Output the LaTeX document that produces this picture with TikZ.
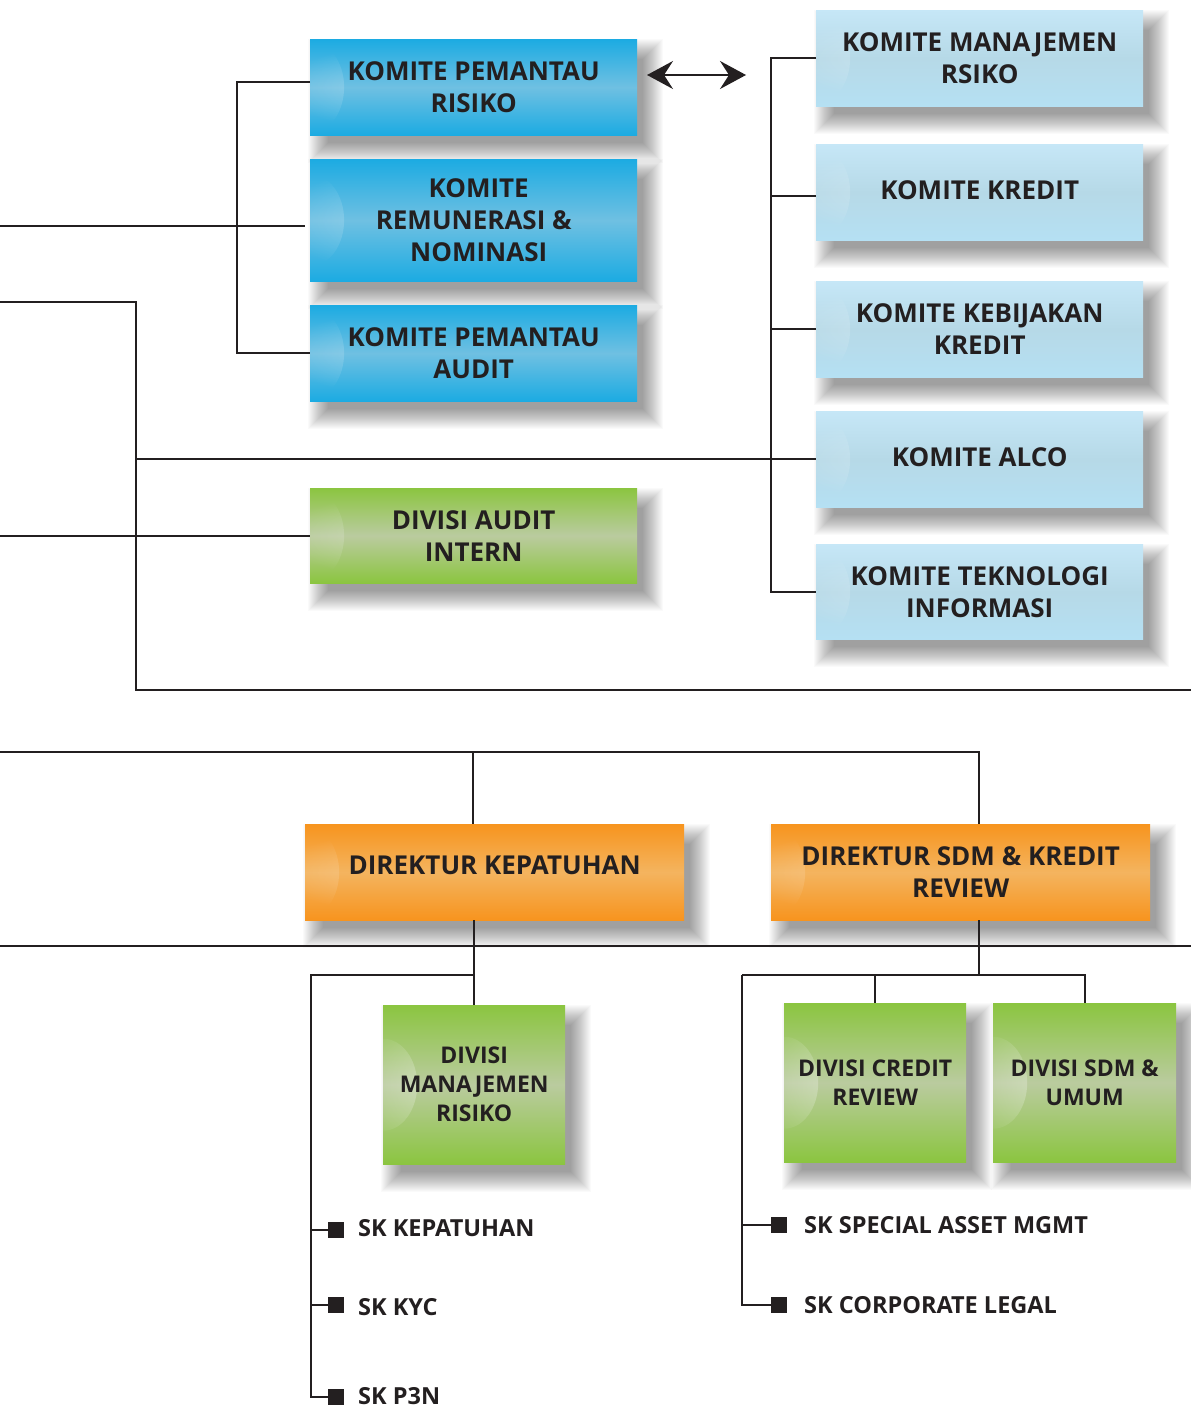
\documentclass[tikz,border=0pt]{standalone}
\usepackage{fontspec}
\setmainfont{Open Sans}
\usetikzlibrary{arrows.meta,fadings}
\pgfdeclarelayer{background}
\pgfsetlayers{background,main}
\tikzfading[name=glowfade, inner color=transparent!0, outer color=transparent!100]
\definecolor{ln}{HTML}{231F20}
\definecolor{bluetop}{HTML}{1CABE2}
\definecolor{bluemid}{HTML}{6FC0E2}
\definecolor{lbtop}{HTML}{C6E7F7}
\definecolor{lbmid}{HTML}{B6D9E7}
\definecolor{lbbot}{HTML}{B5E0F3}
\definecolor{grtop}{HTML}{8BC540}
\definecolor{grmid}{HTML}{BACB9F}
\definecolor{ortop}{HTML}{F7941E}
\definecolor{ormid}{HTML}{F4B45F}
\begin{document}
\begin{tikzpicture}[x=1pt,y=-1pt,
  box/.style={rectangle, anchor=north west, inner sep=0pt, align=center,
    font=\bfseries\fontsize{26}{32}\selectfont, text=ln,
    path picture={\fill[white, opacity=0.4, path fading=glowfade]
      (path picture bounding box.west) ellipse (34pt and 46pt);}},
  bluebox/.style={box, top color=bluetop, bottom color=bluetop, middle color=bluemid},
  lbbox/.style={box, top color=lbtop, bottom color=lbbot, middle color=lbmid},
  grbox/.style={box, top color=grtop, bottom color=grtop, middle color=grmid},
  orbox/.style={box, top color=ortop, bottom color=ortop, middle color=ormid},
  smallfont/.style={font=\bfseries\fontsize{23}{29}\selectfont},
  conn/.style={draw=ln, line width=2pt},
  sq/.style={rectangle, fill=ln, minimum size=16pt, inner sep=0pt},
  sklabel/.style={anchor=west, inner sep=0pt, text=ln, font=\bfseries\fontsize{23.5}{28}\selectfont},
  dbl/.style={draw=ln, line width=2pt, {Stealth[length=26pt,width=28pt,inset=9pt]}-{Stealth[length=26pt,width=28pt,inset=9pt]}}
]
\useasboundingbox (0,0) rectangle (1191,1408);
\begin{pgfonlayer}{background}
\fill[white] (0,0) rectangle (1191,1408);
\end{pgfonlayer}

\coordinate (a226) at (0,226);
\coordinate (a302) at (0,302);
\coordinate (c302) at (136,302);
\coordinate (c690) at (136,690);
\coordinate (e690) at (1191,690);
\coordinate (a536) at (0,536);
\coordinate (a752) at (0,752);
\coordinate (j1) at (473,752);
\coordinate (j2) at (979,752);
\coordinate (a946) at (0,946);
\coordinate (e946) at (1191,946);
\coordinate (lb) at (311,975);
\coordinate (rb) at (742,975);
\coordinate (rj) at (979,975);
\coordinate (arrL) at (647,75);
\coordinate (arrR) at (746,75);

% boxes
\node[bluebox, minimum width=327pt, minimum height=96pt] (kpr) at (310,39) {KOMITE PEMANTAU\\RISIKO};
\node[bluebox, minimum width=327pt, minimum height=122pt] (krn) at (310,159) {\hspace*{10pt}KOMITE\\REMUNERASI \&\hspace*{-10pt}\\\hspace*{10pt}NOMINASI};
\node[bluebox, minimum width=327pt, minimum height=96pt] (kpa) at (310,305) {KOMITE PEMANTAU\\AUDIT};
\node[grbox, minimum width=327pt, minimum height=95pt] (dai) at (310,488) {DIVISI AUDIT\\INTERN};

\node[lbbox, minimum width=327pt, minimum height=96pt] (kmr) at (816,10) {KOMITE MANAJEMEN\\RSIKO};
\node[lbbox, minimum width=327pt, minimum height=96pt] (kk) at (816,144) {\raisebox{5pt}{KOMITE KREDIT}};
\node[lbbox, minimum width=327pt, minimum height=96pt] (kkk) at (816,281) {KOMITE KEBIJAKAN\\KREDIT};
\node[lbbox, minimum width=327pt, minimum height=96pt] (kalco) at (816,411) {\raisebox{5pt}{KOMITE ALCO}};
\node[lbbox, minimum width=327pt, minimum height=95pt] (kti) at (816,544) {KOMITE TEKNOLOGI\\INFORMASI};

\node[orbox, minimum width=379pt, minimum height=96pt] (dk) at (305,824) {\raisebox{14pt}{DIREKTUR KEPATUHAN}};
\node[orbox, minimum width=379pt, minimum height=96pt] (dsdm) at (771,824) {DIREKTUR SDM \& KREDIT\\REVIEW};

\node[grbox, smallfont, minimum width=182pt, minimum height=159pt] (dmr) at (383,1005) {DIVISI\\MANAJEMEN\\RISIKO};
\node[grbox, smallfont, minimum width=182pt, minimum height=159pt] (dcr) at (784,1003) {DIVISI CREDIT\\REVIEW};
\node[grbox, smallfont, minimum width=183pt, minimum height=159pt] (dsu) at (993,1003) {DIVISI SDM \&\\UMUM};

% soft drop shadows
\begin{pgfonlayer}{background}
\foreach \n in {kpr,krn,kpa,dai,kmr,kk,kkk,kalco,kti,dk,dsdm,dmr,dcr,dsu}{
  \foreach \e in {14,13,...,-6}{
    \fill[black, opacity=0.018]
      ([xshift=12pt-\e pt, yshift=-14pt+\e pt]\n.north west) rectangle
      ([xshift=12pt+\e pt, yshift=-14pt-\e pt]\n.south east);
  }
}
\end{pgfonlayer}

% bullets
\node[sq] (s1) at (336,1230) {};
\node[sq] (s2) at (336,1305) {};
\node[sq] (s3) at (336,1397) {};
\node[sklabel] (t1) at (358,1228) {SK KEPATUHAN};
\node[sklabel] (t2) at (358,1307) {SK KYC};
\node[sklabel] (t3) at (358,1396) {SK P3N};
\node[sq] (s4) at (779,1225) {};
\node[sq] (s5) at (779,1305) {};
\node[sklabel] (t4) at (804,1225) {SK SPECIAL ASSET MGMT};
\node[sklabel] (t5) at (804,1305) {SK CORPORATE LEGAL};

% connectors
\draw[conn] ([yshift=5pt]kpr.west) -- ++(-73,0) |- (kpa.west);
\draw[conn] (a226) -- ([xshift=-5pt]a226 -| krn.west);
\draw[conn] (a302) -- (c302) -- (c690) -- (e690);
\draw[conn] (c302 |- kalco.west) -- (kalco.west);
\draw[conn] (a536) -- (a536 -| dai.west);
\draw[conn] (kmr.west) -- ++(-45,0) |- (kti.west);
\draw[conn] ([yshift=-4pt]kk.west) -- ++(-45,0);
\draw[conn] (kkk.west) -- ++(-45,0);
\draw[dbl] (arrL) -- (arrR);
\draw[conn] (a752) -- (j2) -- (j2 |- dsdm.north);
\draw[conn] (j1) -- (j1 |- dk.north);
\draw[conn] (a946) -- (e946);
\draw[conn] (dmr.north) -- (dmr.north |- dk.south);
\draw[conn] (dmr.north |- lb) -- (lb) |- (s3.west);
\draw[conn] (lb |- s1) -- (s1.west);
\draw[conn] (lb |- s2) -- (s2.west);
\draw[conn] (rj |- dsdm.south) -- (rj);
\draw[conn] (rb) -- (dsu.north |- rb) -- (dsu.north);
\draw[conn] (dcr.north |- rb) -- (dcr.north);
\draw[conn] (rb) |- (s5.west);
\draw[conn] (rb |- s4) -- (s4.west);
\end{tikzpicture}
\end{document}
